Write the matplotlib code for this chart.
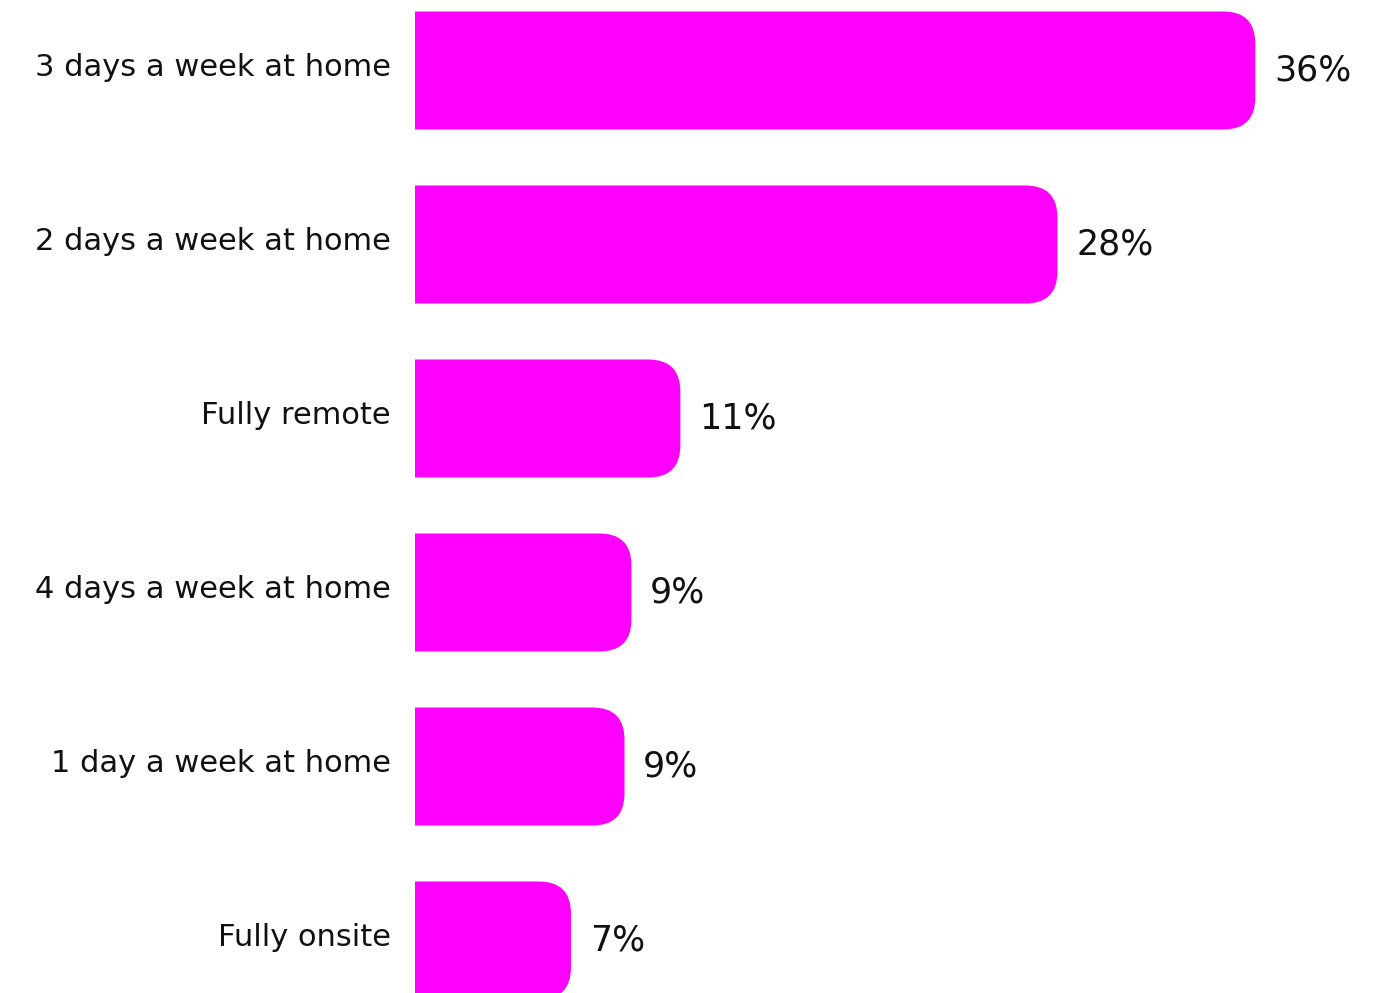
import matplotlib.pyplot as plt
from matplotlib.patches import FancyBboxPatch

categories = ["3 days a week at home", "2 days a week at home", "Fully remote",
              "4 days a week at home", "1 day a week at home", "Fully onsite"]
shares = [36.1, 27.6, 11.4, 9.3, 9.0, 6.7]

W, H = 1388, 993
fig = plt.figure(figsize=(W / 100, H / 100), dpi=100)
ax_left = 415
ax = fig.add_axes([ax_left / W, 0, 1 - ax_left / W, 1])

xmax = 41.8
ax.set_xlim(0, xmax)
row_px = 174
ax.set_ylim((H - 70.5) / row_px, -70.5 / row_px)
ax.axis("off")

px_x = (W - ax_left) / xmax   # pixels per percent
bar_h = 118 / row_px
radius = 32 / px_x
aspect = px_x / row_px

for i, (cat, v) in enumerate(zip(categories, shares)):
    # start left of the axis so only the right corners show as rounded
    box = FancyBboxPatch((-3, i - bar_h / 2), v + 3, bar_h,
                         boxstyle=f"round,pad=0,rounding_size={radius}",
                         mutation_aspect=aspect, fc="#ff00ff", ec="none")
    ax.add_patch(box)
    ax.text(-24 / px_x, i - 0.015, cat, ha="right", va="center", fontsize=22,
            color="#111111", clip_on=False)
    ax.annotate(f"{v:.0f}%", (v, i), xytext=(13.5, 0), textcoords="offset points",
                ha="left", va="center", fontsize=25, color="#111111")

fig.savefig("out.png", dpi=100)
